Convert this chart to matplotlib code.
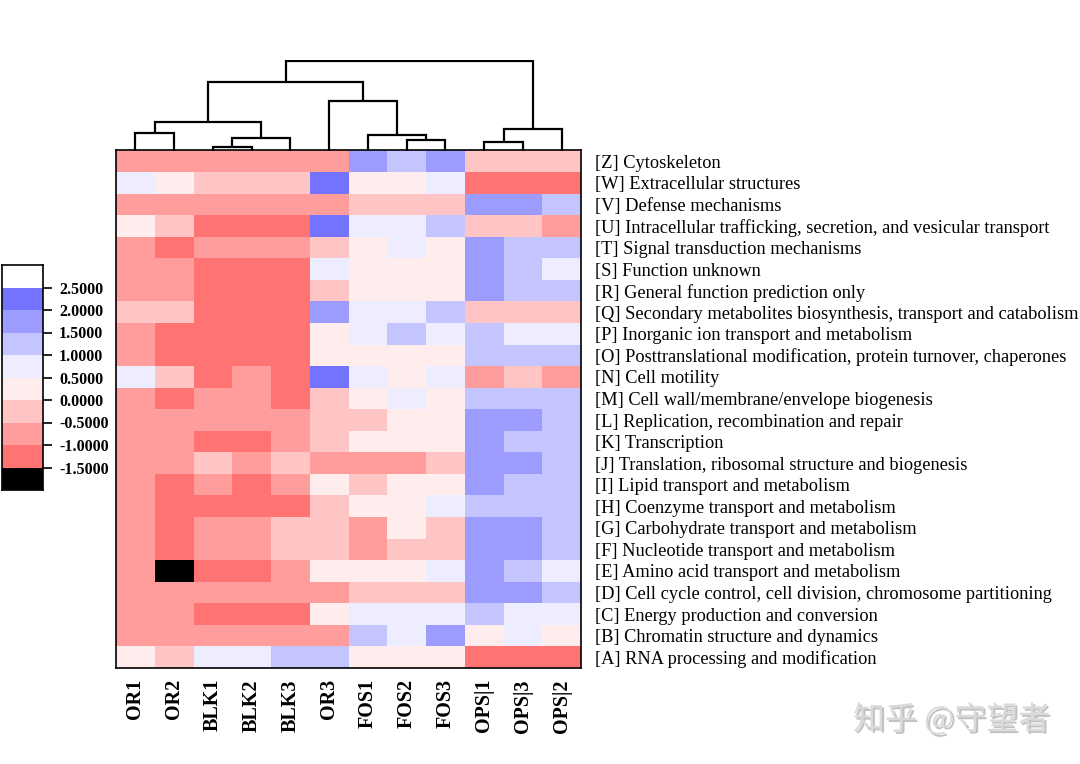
import matplotlib
matplotlib.use("Agg")
import matplotlib.pyplot as plt
import matplotlib.patheffects as pe
from matplotlib.colors import ListedColormap, BoundaryNorm
import numpy as np

# ---------------- data ----------------
samples = ["OR1", "OR2", "BLK1", "BLK2", "BLK3", "OR3",
           "FOS1", "FOS2", "FOS3", "OPSI1", "OPSI3", "OPSI2"]
sample_labels = ["OR1", "OR2", "BLK1", "BLK2", "BLK3", "OR3",
                 "FOS1", "FOS2", "FOS3", "OPS|1", "OPS|3", "OPS|2"]

categories = [
    "[Z] Cytoskeleton",
    "[W] Extracellular structures",
    "[V] Defense mechanisms",
    "[U] Intracellular trafficking, secretion, and vesicular transport",
    "[T] Signal transduction mechanisms",
    "[S] Function unknown",
    "[R] General function prediction only",
    "[Q] Secondary metabolites biosynthesis, transport and catabolism",
    "[P] Inorganic ion transport and metabolism",
    "[O] Posttranslational modification, protein turnover, chaperones",
    "[N] Cell motility",
    "[M] Cell wall/membrane/envelope biogenesis",
    "[L] Replication, recombination and repair",
    "[K] Transcription",
    "[J] Translation, ribosomal structure and biogenesis",
    "[I] Lipid transport and metabolism",
    "[H] Coenzyme transport and metabolism",
    "[G] Carbohydrate transport and metabolism",
    "[F] Nucleotide transport and metabolism",
    "[E] Amino acid transport and metabolism",
    "[D] Cell cycle control, cell division, chromosome partitioning",
    "[C] Energy production and conversion",
    "[B] Chromatin structure and dynamics",
    "[A] RNA processing and modification",
]

# z-scores (read as bin midpoints from the discrete colour scale)
values = [
    [-0.75, -0.75, -0.75, -0.75, -0.75, -0.75,  1.75,  1.25,  1.75, -0.25, -0.25, -0.25],  # Z
    [ 0.75,  0.25, -0.25, -0.25, -0.25,  2.25,  0.25,  0.25,  0.75, -1.25, -1.25, -1.25],  # W
    [-0.75, -0.75, -0.75, -0.75, -0.75, -0.75, -0.25, -0.25, -0.25,  1.75,  1.75,  1.25],  # V
    [ 0.25, -0.25, -1.25, -1.25, -1.25,  2.25,  0.75,  0.75,  1.25, -0.25, -0.25, -0.75],  # U
    [-0.75, -1.25, -0.75, -0.75, -0.75, -0.25,  0.25,  0.75,  0.25,  1.75,  1.25,  1.25],  # T
    [-0.75, -0.75, -1.25, -1.25, -1.25,  0.75,  0.25,  0.25,  0.25,  1.75,  1.25,  0.75],  # S
    [-0.75, -0.75, -1.25, -1.25, -1.25, -0.25,  0.25,  0.25,  0.25,  1.75,  1.25,  1.25],  # R
    [-0.25, -0.25, -1.25, -1.25, -1.25,  1.75,  0.75,  0.75,  1.25, -0.25, -0.25, -0.25],  # Q
    [-0.75, -1.25, -1.25, -1.25, -1.25,  0.25,  0.75,  1.25,  0.75,  1.25,  0.75,  0.75],  # P
    [-0.75, -1.25, -1.25, -1.25, -1.25,  0.25,  0.25,  0.25,  0.25,  1.25,  1.25,  1.25],  # O
    [ 0.75, -0.25, -1.25, -0.75, -1.25,  2.25,  0.75,  0.25,  0.75, -0.75, -0.25, -0.75],  # N
    [-0.75, -1.25, -0.75, -0.75, -1.25, -0.25,  0.25,  0.75,  0.25,  1.25,  1.25,  1.25],  # M
    [-0.75, -0.75, -0.75, -0.75, -0.75, -0.25, -0.25,  0.25,  0.25,  1.75,  1.75,  1.25],  # L
    [-0.75, -0.75, -1.25, -1.25, -0.75, -0.25,  0.25,  0.25,  0.25,  1.75,  1.25,  1.25],  # K
    [-0.75, -0.75, -0.25, -0.75, -0.25, -0.75, -0.75, -0.75, -0.25,  1.75,  1.75,  1.25],  # J
    [-0.75, -1.25, -0.75, -1.25, -0.75,  0.25, -0.25,  0.25,  0.25,  1.75,  1.25,  1.25],  # I
    [-0.75, -1.25, -1.25, -1.25, -1.25, -0.25,  0.25,  0.25,  0.75,  1.25,  1.25,  1.25],  # H
    [-0.75, -1.25, -0.75, -0.75, -0.25, -0.25, -0.75,  0.25, -0.25,  1.75,  1.75,  1.25],  # G
    [-0.75, -1.25, -0.75, -0.75, -0.25, -0.25, -0.75, -0.25, -0.25,  1.75,  1.75,  1.25],  # F
    [-0.75, -1.75, -1.25, -1.25, -0.75,  0.25,  0.25,  0.25,  0.75,  1.75,  1.25,  0.75],  # E
    [-0.75, -0.75, -0.75, -0.75, -0.75, -0.75, -0.25, -0.25, -0.25,  1.75,  1.75,  1.25],  # D
    [-0.75, -0.75, -1.25, -1.25, -1.25,  0.25,  0.75,  0.75,  0.75,  1.25,  0.75,  0.75],  # C
    [-0.75, -0.75, -0.75, -0.75, -0.75, -0.75,  1.25,  0.75,  1.75,  0.25,  0.75,  0.25],  # B
    [ 0.25, -0.25,  0.75,  0.75,  1.25,  1.25,  0.25,  0.25,  0.25, -1.25, -1.25, -1.25],  # A
]

# discrete colour scale
level_bounds = [-2.0, -1.5, -1.0, -0.5, 0.0, 0.5, 1.0, 1.5, 2.0, 2.5, 3.0]
level_colors = ["#000000", "#FF7373", "#FF9C9C", "#FFC4C4", "#FFEDED",
                "#EDEDFF", "#C4C4FF", "#9C9CFF", "#7373FF", "#FFFFFF"]
legend_ticks = [-1.5, -1.0, -0.5, 0.0, 0.5, 1.0, 1.5, 2.0, 2.5]

# column dendrogram: merges (left id, right id, height); leaves 0..11, new ids from 12
merges = [
    (2, 3, 3.5),     # 12
    (9, 10, 8.4),    # 13
    (7, 8, 10.7),    # 14
    (12, 4, 12.7),   # 15
    (6, 14, 15.7),   # 16
    (0, 1, 17.7),    # 17
    (13, 11, 21.7),  # 18
    (17, 15, 29.0),  # 19
    (5, 16, 50.0),   # 20
    (19, 20, 68.4),  # 21
    (21, 18, 90.0),  # 22
]

# ---------------- figure ----------------
plt.rcParams['font.family'] = ['Liberation Serif', 'DejaVu Serif']
W, H = 1080, 764
fig = plt.figure(figsize=(W / 100, H / 100), dpi=100)

def fax(x0, y0, x1, y1):
    return fig.add_axes([x0 / W, 1 - y1 / H, (x1 - x0) / W, (y1 - y0) / H])

cmap = ListedColormap(level_colors)
norm = BoundaryNorm(level_bounds, cmap.N)

# heatmap
hx0, hy0, hx1, hy1 = 116, 150.5, 581, 668
ax = fax(hx0, hy0, hx1, hy1)
data = np.array(values)
ax.pcolormesh(np.arange(len(samples) + 1) - 0.5,
              np.arange(len(categories) + 1) - 0.5,
              data, cmap=cmap, norm=norm)
ax.set_xlim(-0.5, len(samples) - 0.5)
ax.set_ylim(len(categories) - 0.5, -0.5)
ax.set_yticks(range(len(categories)))
ax.set_yticklabels(categories, fontsize=13.2)
ax.yaxis.tick_right()
ax.tick_params(axis='y', length=0, pad=10)
ax.set_xticks(range(len(samples)))
ax.set_xticklabels(sample_labels, rotation=90, fontsize=14.5, fontweight='bold',
                   va='top')
ax.tick_params(axis='x', length=0, pad=8)
for s in ax.spines.values():
    s.set_linewidth(1.2)

# dendrogram
dax = fax(hx0, hy0 - 91, hx1, hy0)
dax.set_xlim(-0.5, len(samples) - 0.5)
dax.set_ylim(0, 91)
pos = {i: (float(i), 0.0) for i in range(len(samples))}
nid = len(samples)
for a, b, h in merges:
    xa, ya = pos[a]
    xb, yb = pos[b]
    dax.plot([xa, xa, xb, xb], [ya, h, h, yb], color='black', lw=1.6,
             solid_joinstyle='miter', solid_capstyle='butt')
    pos[nid] = ((xa + xb) / 2, h)
    nid += 1
dax.axis('off')

# colour legend
cax = fax(2, 265, 43, 490)
cb_y = np.array(level_bounds)
cax.pcolormesh([0, 1], cb_y, np.array([(cb_y[:-1] + cb_y[1:]) / 2]).T,
               cmap=cmap, norm=norm)
cax.set_ylim(level_bounds[0], level_bounds[-1])
cax.set_xlim(0, 1)
cax.set_xticks([])
cax.set_yticks(legend_ticks)
cax.set_yticklabels([f"{t:.4f}" for t in legend_ticks], fontsize=11.5,
                    fontweight='bold')
cax.yaxis.tick_right()
cax.tick_params(axis='y', length=6.5, width=1.2, pad=5)
for s in cax.spines.values():
    s.set_linewidth(1.2)

# watermark
fig.text(853 / W, 1 - 720 / H, "知乎 @守望者", fontsize=23, color='#dadada',
         family=['Noto Sans CJK SC', 'DejaVu Sans'], va='center', ha='left',
         path_effects=[pe.withSimplePatchShadow(offset=(1.5, -1.5),
                                                shadow_rgbFace='#9a9a9a', alpha=0.6)])

fig.savefig("out.png", dpi=100)
